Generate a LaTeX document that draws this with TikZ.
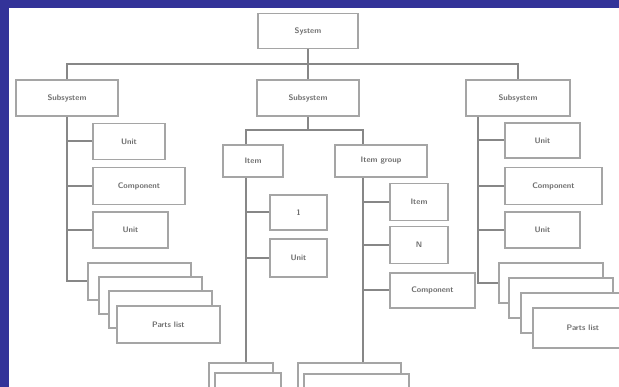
\documentclass[tikz,border=0pt]{standalone}
\usepackage{xcolor}
\usetikzlibrary{positioning,calc}
\definecolor{frameblue}{RGB}{51,51,153}
\definecolor{boxgray}{RGB}{165,165,165}
\definecolor{lngray}{RGB}{135,135,135}
\definecolor{txtgray}{RGB}{110,110,110}
\begin{document}
\begin{tikzpicture}[x=1pt, y=-1pt,
  blk/.style={
    draw=boxgray, rectangle, line width=1.8pt, fill=white,
    inner sep=1pt, align=center, text=txtgray,
    font=\footnotesize\sffamily\bfseries
  },
  lnk/.style={draw=lngray, line width=2pt},
]
%% frame
\fill[frameblue] (0,0) rectangle (619,387);
\fill[white] (9,8) rectangle (619,387);
\useasboundingbox (0,0) rectangle (619,387);

%% top level
\node[blk, minimum width=100pt, minimum height=35pt] (root) at (308,31) {System};
\node[blk, minimum width=102pt, minimum height=36pt] (lft) at (67,98) {Subsystem};
\node[blk, minimum width=102pt, minimum height=36pt] (mid) at (308,98) {Subsystem};
\node[blk, minimum width=104pt, minimum height=36pt] (rgt) at (518,98) {Subsystem};

\draw[lnk] (lft.north) -- ++(0,-15) -| (rgt.north);
\draw[lnk] (root) -- (mid);

%% left branch
\node[blk, minimum width=72pt, minimum height=36pt] (l1) at (129,141.5) {Unit};
\node[blk, minimum width=92pt, minimum height=37pt] (l2) at (139,186) {Component};
\node[blk, minimum width=75pt, minimum height=36pt] (l3) at (130.5,230) {Unit};
\foreach \x/\y [count=\i] in {87/262, 98/276, 108/290}
  \node[blk, anchor=north west, minimum width=103pt, minimum height=37pt] (ls\i) at (\x,\y) {};
\node[blk, anchor=north west, minimum width=103pt, minimum height=37pt] (ls4) at (116,305) {Parts list};

\draw[lnk] (lft.south) |- (ls1.west);
\foreach \n in {l1,l2,l3}
  \draw[lnk] (\n.west) -- (\n.west -| lft.south);

%% middle branch
\coordinate (clx) at (246,130);
\coordinate (crx) at (363,130);
\node[blk, minimum width=60pt, minimum height=32pt] (cl) at (253,161) {Item};
\node[blk, minimum width=92pt, minimum height=32pt] (cr) at (381,161) {Item group};

\draw[lnk] (mid) -- (mid |- clx);
\draw[lnk] (cl.north -| clx) |- (crx) -- (cr.north -| crx);

\node[blk, minimum width=57pt, minimum height=35pt] (ca) at (298.5,212.5) {1};
\node[blk, minimum width=57pt, minimum height=38pt] (cb) at (298.5,258) {Unit};
\node[blk, minimum width=58pt, minimum height=37pt] (cc) at (419,202) {Item};
\node[blk, minimum width=58pt, minimum height=37pt] (cd) at (419,245) {N};
\node[blk, minimum width=85pt, minimum height=35pt] (ce) at (432.5,290.5) {Component};

\node[blk, anchor=north west, minimum width=64pt, minimum height=37pt] (lb1) at (208,362) {};
\node[blk, anchor=north west, minimum width=66pt, minimum height=37pt] (lb2) at (214,372) {};
\node[blk, anchor=north west, minimum width=103pt, minimum height=37pt] (rb1) at (297,362) {};
\node[blk, anchor=north west, minimum width=105pt, minimum height=37pt] (rb2) at (303,373) {};

\draw[lnk] (cl.south -| clx) -- (lb1.north -| clx);
\draw[lnk] (cr.south -| crx) -- (rb1.north -| crx);
\foreach \n in {ca,cb}
  \draw[lnk] (\n.west) -- (\n.west -| clx);
\foreach \n in {cc,cd,ce}
  \draw[lnk] (\n.west) -- (\n.west -| crx);

%% right branch
\coordinate (rtx) at (478,0);
\node[blk, minimum width=75pt, minimum height=35pt] (r1) at (542.5,140.5) {Unit};
\node[blk, minimum width=97pt, minimum height=37pt] (r2) at (553.5,186) {Component};
\node[blk, minimum width=75pt, minimum height=36pt] (r3) at (542.5,230) {Unit};
\foreach \x/\y [count=\i] in {498/262, 508/277, 520/292}
  \node[blk, anchor=north west, minimum width=104pt, minimum height=40pt] (rs\i) at (\x,\y) {};
\node[blk, anchor=north west, minimum width=100pt, minimum height=40pt] (rs4) at (532,307) {Parts list};

\draw[lnk] (rgt.south -| rtx) |- (rs1.west);
\foreach \n in {r1,r2,r3}
  \draw[lnk] (\n.west) -- (\n.west -| rtx);
\end{tikzpicture}
\end{document}
